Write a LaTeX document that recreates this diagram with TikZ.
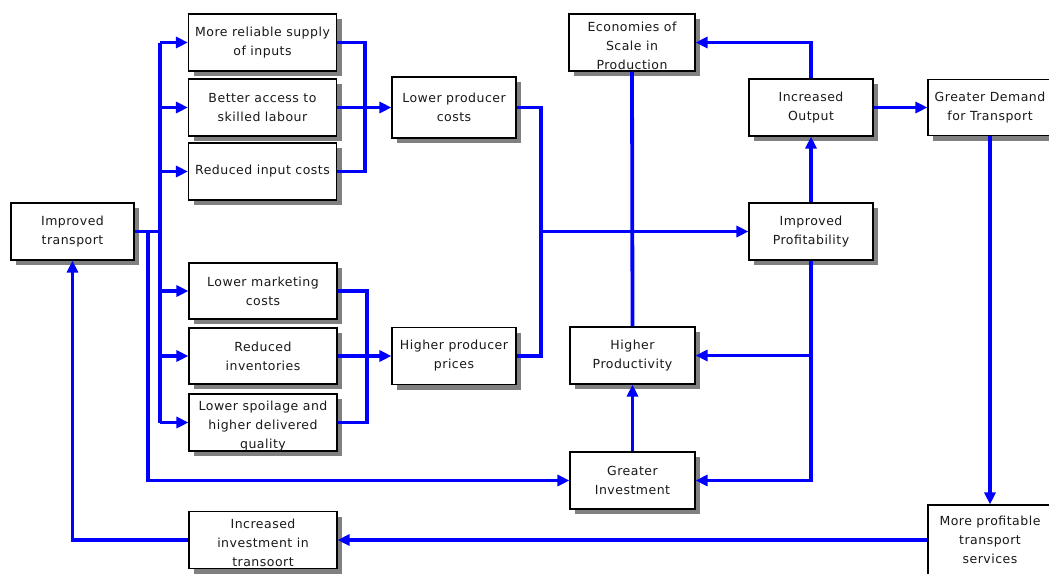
\documentclass[tikz,border=0pt]{standalone}
\usepackage{fontspec}
\setmainfont[LetterSpace=4]{DejaVu Sans}
\usetikzlibrary{arrows.meta,shadows}
% raises the top of a first text line so three-line labels sit a little lower
\newcommand{\toppad}{\rule{0pt}{16pt}}
\begin{document}
\begin{tikzpicture}[x=1pt,y=-1pt,
  box/.style={draw=black, line width=1.1pt, fill=white, align=center,
    inner sep=0pt, font=\fontsize{12.5}{19}\selectfont, text=black!90,
    general shadow={fill=black!50, shadow xshift=5pt, shadow yshift=-5pt}},
  wbox/.style={box, minimum width=148pt, minimum height=57pt},
  nbox/.style={box, minimum width=124pt, minimum height=57pt},
  link/.style={draw=blue, line width=3.8pt},
  arr/.style={link, -{Triangle[length=12pt,width=11pt]}}]
\useasboundingbox (0,0) rectangle (1049,573);
\clip (0,0) rectangle (1049,573);
\fill[white] (0,0) rectangle (1049,573);

% boxes
\node[box, minimum width=123pt, minimum height=57pt] (it) at (72.5,231.5) {Improved\\transport};
\node[wbox] (mr) at (262.5,42.5) {More reliable supply\\of inputs};
\node[wbox] (ba) at (262.5,107.5) {Better access to\\skilled labour};
\node[wbox] (ri) at (262.5,171.5) {Reduced input costs};
\node[wbox, minimum height=56pt] (lm) at (263,291) {Lower marketing\\costs};
\node[wbox, minimum height=56pt] (rv) at (263,356) {Reduced\\inventories};
\node[wbox] (ls) at (263,422.5) {\toppad Lower spoilage and\\higher delivered\\quality};
\node[nbox, minimum height=61pt] (lp) at (454,107.5) {Lower producer\\costs};
\node[nbox] (hp) at (454,356) {Higher producer\\prices};
\node[box, minimum width=126pt, minimum height=57pt] (es) at (632,42.5) {\toppad Economies of\\Scale in\\Production};
\node[box, minimum width=125pt, minimum height=57pt] (hpr) at (632.5,355.5) {Higher\\Productivity};
\node[box, minimum width=125pt, minimum height=57pt] (gi) at (632.5,480.5) {Greater\\Investment};
\node[nbox] (io) at (811,107.5) {Increased\\Output};
\node[nbox] (ip) at (811,231.5) {Improved\\Profitability};
\node[nbox, minimum height=56pt] (gd) at (990,107.5) {Greater Demand\\for Transport};
\node[nbox, minimum height=70pt] (mp) at (990,540) {More profitable\\transport\\services};
\node[wbox] (ii) at (263,540) {\toppad Increased\\investment in\\transoort};

% junction points of the connector buses
\coordinate (bus0) at (148,231.5);
\coordinate (bus1) at (160,231.5);
\coordinate (j1) at (365,107.5);
\coordinate (j2) at (367,356);
\coordinate (j3) at (541,231.5);

% fan-out from improved transport
\draw[link] (it.east) -- (bus1);
\draw[link] (bus1 |- mr) -- (bus1 |- ls);
\foreach \n in {mr,ba,ri,lm,rv,ls}
  \draw[arr] (bus1 |- \n) -- (\n.west);
\draw[arr] (bus0) |- (gi.west);

% cost and price groups
\draw[link] (mr.east) -| (j1) |- (ri.east);
\draw[arr] (ba.east) -- (lp.west);
\draw[link] (lm.east) -| (j2) |- (ls.east);
\draw[arr] (rv.east) -- (hp.west);
\draw[link] (lp.east) -| (j3) |- (hp.east);
\draw[arr] (j3) -- (ip.west);

% right-hand loop
\draw[link] (es.south) -- (hpr.north);
\draw[arr] (io.north) |- (es.east);
\draw[arr] (io.east) -- (gd.west);
\draw[arr] (ip.north) -- (io.south);
\draw[arr] (ip.south) |- (gi.east);
\draw[arr] (ip.south |- hpr) -- (hpr.east);
\draw[arr] (gi.north) -- (hpr.south);
\draw[arr] (gd.south) -- (mp.north);
\draw[arr] (mp.west) -- (ii.east);
\draw[arr] (ii.west) -| (it.south);
\end{tikzpicture}
\end{document}
